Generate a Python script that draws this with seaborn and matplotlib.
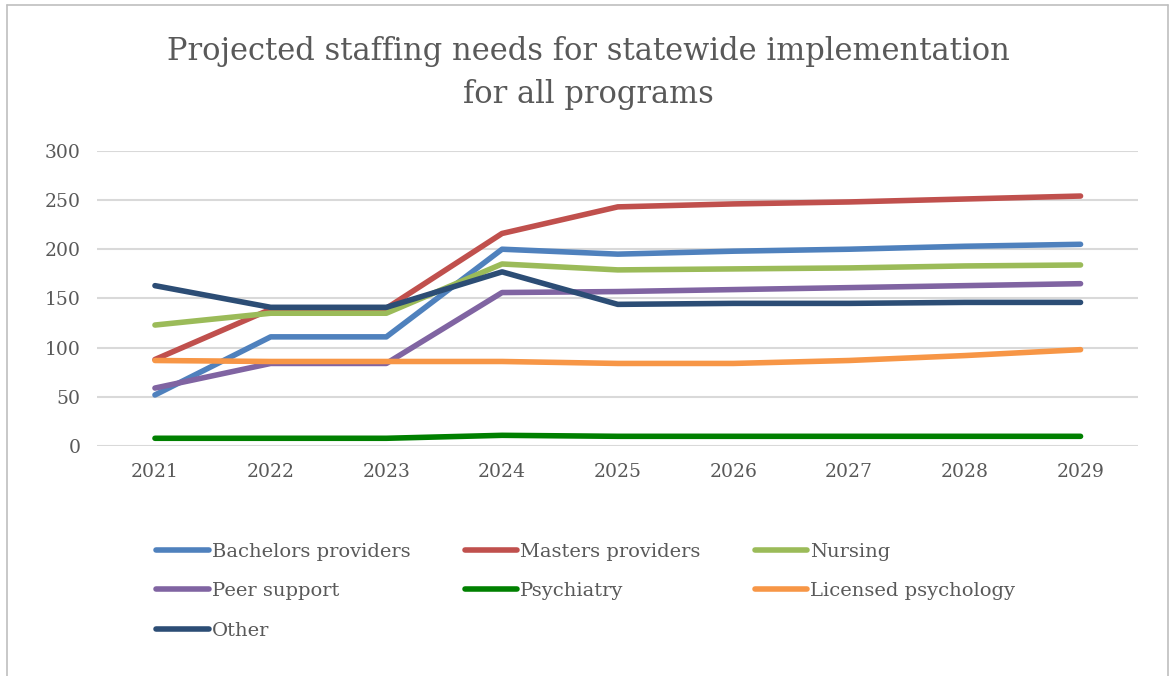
import matplotlib
matplotlib.use('agg')
import matplotlib.pyplot as plt
import seaborn as sns
import pandas as pd

years = [2021, 2022, 2023, 2024, 2025, 2026, 2027, 2028, 2029]
bachelors = [52, 111, 111, 200, 195, 198, 200, 203, 205]
masters = [88, 139, 140, 216, 243, 246, 248, 251, 254]
nursing = [123, 135, 135, 185, 179, 180, 181, 183, 184]
peer = [59, 84, 84, 156, 157, 159, 161, 163, 165]
psychiatry = [8, 8, 8, 11, 10, 10, 10, 10, 10]
licensed = [87, 86, 86, 86, 84, 84, 87, 92, 98]
other = [163, 141, 141, 177, 144, 145, 145, 146, 146]

names = ['Bachelors providers', 'Masters providers', 'Nursing',
         'Peer support', 'Psychiatry', 'Licensed psychology', 'Other']
colors = ['#4f81bd', '#c0504d', '#9bbb59', '#8064a2', '#008000', '#f79646', '#2c4d75']

series = [bachelors, masters, nursing, peer, psychiatry, licensed, other]
rows = []
for name, vals in zip(names, series):
    for i, v in enumerate(vals):
        rows.append({'pos': i, 'value': v, 'series': name})
df = pd.DataFrame(rows)

sns.set_style('white')
plt.rcParams['font.family'] = ['DejaVu Serif']
text_color = '#595959'

fig = plt.figure(figsize=(11.7, 6.76), dpi=100)
ax = fig.add_axes([0.083, 0.34, 0.89, 0.437])

sns.lineplot(data=df, x='pos', y='value', hue='series', hue_order=names,
             palette=dict(zip(names, colors)), linewidth=4, ax=ax,
             solid_capstyle='round', legend=True)

ax.set_xlim(-0.5, len(years) - 0.5)
ax.set_ylim(0, 300)
ax.set_yticks(range(0, 301, 50))
ax.set_xticks(range(len(years)))
ax.set_xticklabels([str(y) for y in years])
ax.yaxis.grid(True, color='#d9d9d9', linewidth=1.5)
ax.xaxis.grid(False)
ax.set_axisbelow(True)
for s in ax.spines.values():
    s.set_visible(False)
ax.tick_params(axis='both', length=0, labelsize=13.5, colors=text_color, pad=12)
ax.set_xlabel('')
ax.set_ylabel('')

fig.suptitle('Projected staffing needs for statewide implementation\nfor all programs',
             x=0.503, y=0.947, fontsize=22, color=text_color, linespacing=1.5)

# legend is filled column by column, so reorder to read row by row
handles, labels = ax.get_legend_handles_labels()
lut = dict(zip(labels, handles))
order = ['Bachelors providers', 'Peer support', 'Other',
         'Masters providers', 'Psychiatry',
         'Nursing', 'Licensed psychology']
ax.legend([lut[n] for n in order], order, ncol=3, loc='upper left',
          bbox_to_anchor=(0.04, -0.268),
          frameon=False, fontsize=14, labelcolor=text_color, handlelength=2.7,
          handletextpad=0.15, columnspacing=2.8, labelspacing=1.1)

# outer chart border
border = '#bfbfbf'
fig.add_artist(plt.Line2D([0.006, 0.006], [0.0, 0.992], color=border, linewidth=1.2))
fig.add_artist(plt.Line2D([0.006, 0.9985], [0.992, 0.992], color=border, linewidth=1.2))
fig.add_artist(plt.Line2D([0.9985, 0.9985], [0.0, 0.992], color=border, linewidth=1.2))

fig.savefig('out.png', dpi=100)
